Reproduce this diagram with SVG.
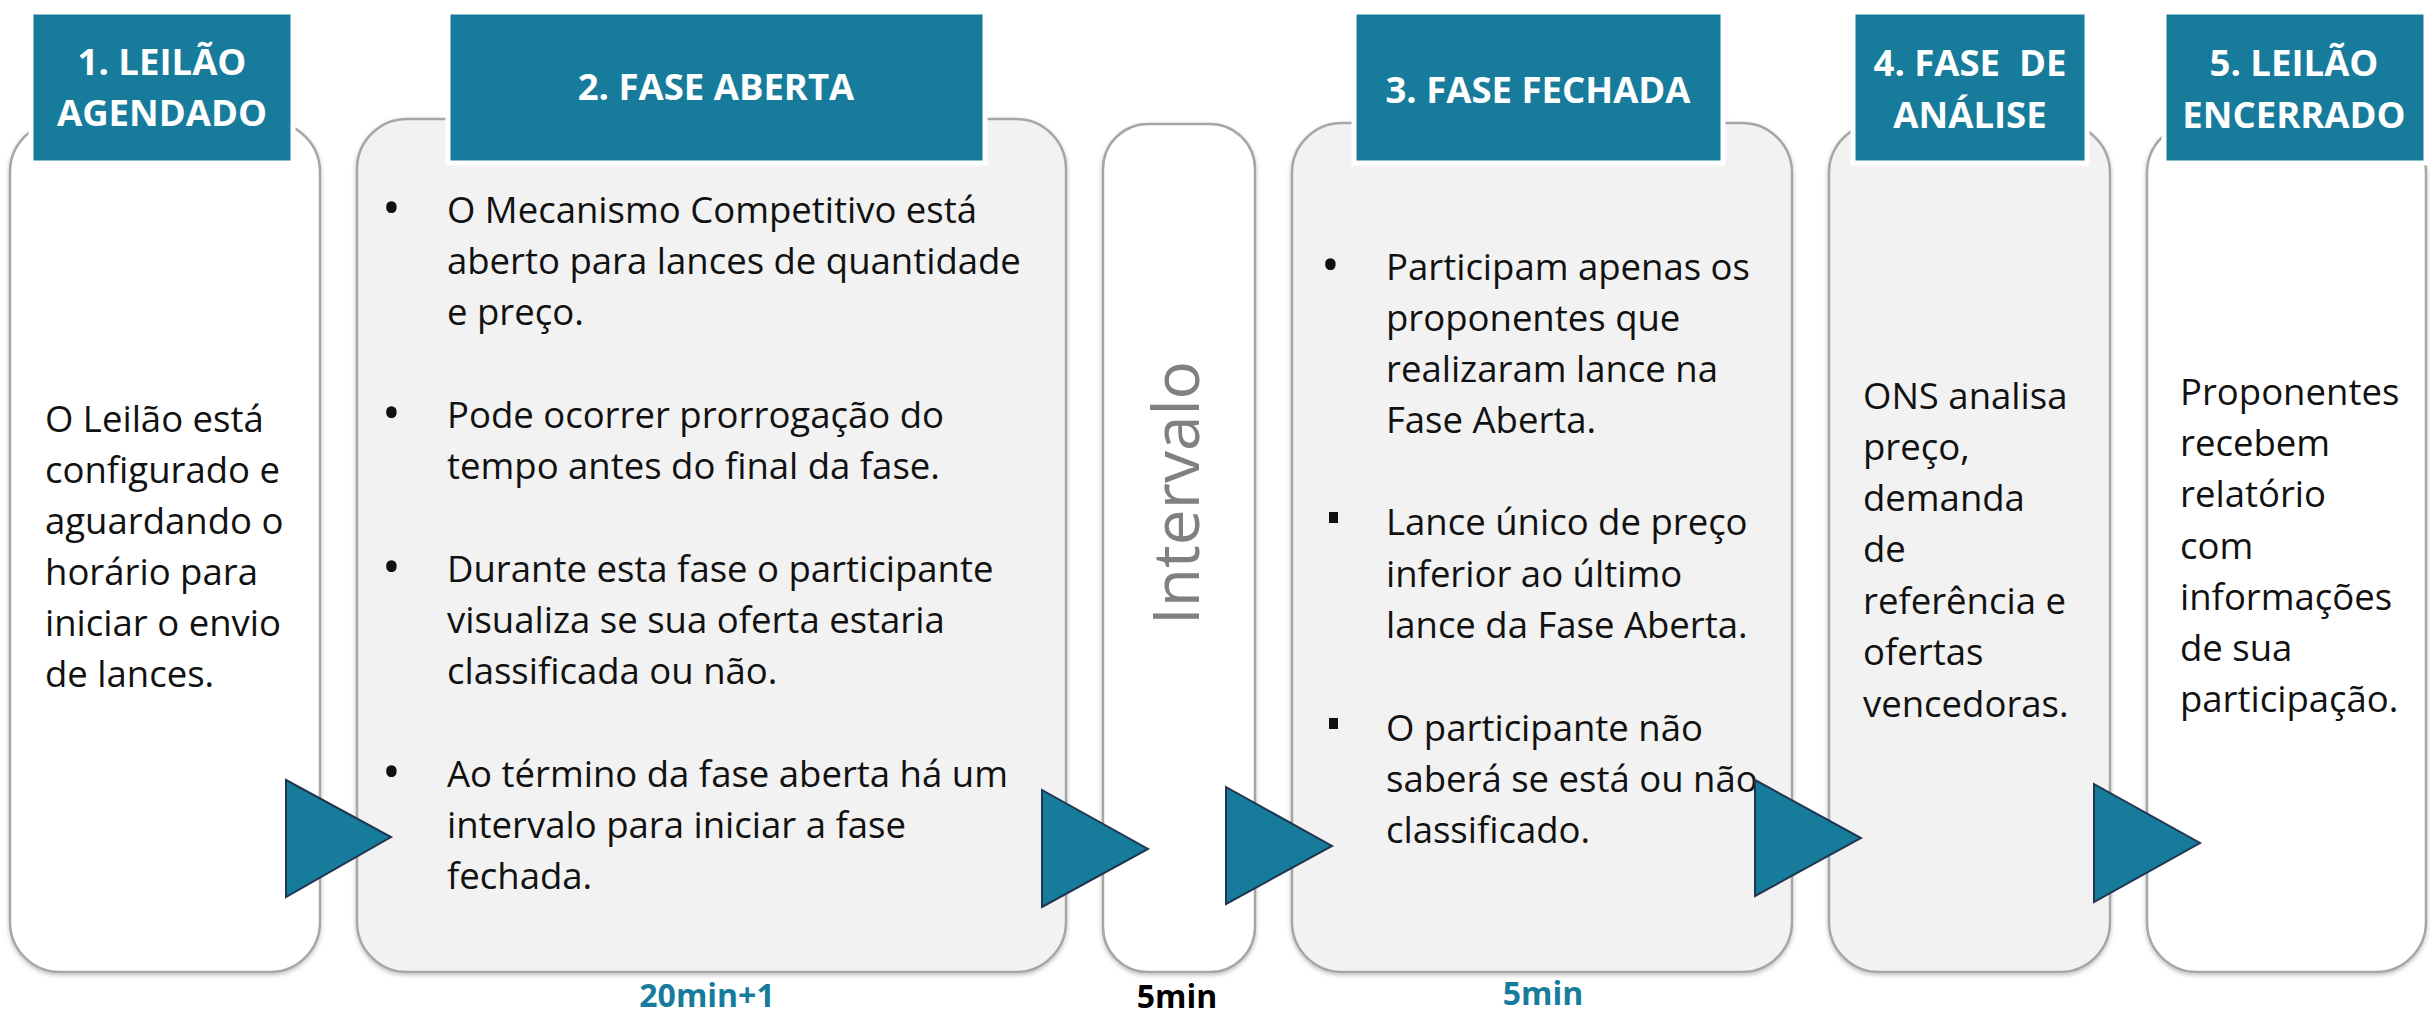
<svg xmlns="http://www.w3.org/2000/svg" width="2430" height="1017" viewBox="0 0 2430 1017">
<defs>
<filter id="sh" x="-5%" y="-5%" width="110%" height="110%">
<feDropShadow dx="0" dy="2" stdDeviation="2" flood-color="#000" flood-opacity="0.25"/>
</filter>
<style>
.box{stroke:#a6a6a6;stroke-width:2.5;filter:url(#sh)}
.w{fill:#ffffff}
.g{fill:#f2f2f2}
.hdr{fill:#177c9c;stroke:#ffffff;stroke-width:5}
.ht{font-family:"Open Sans","Liberation Sans",sans-serif;font-weight:bold;font-size:36.5px;fill:#ffffff;text-anchor:middle}
.t{font-family:"Open Sans","Liberation Sans",sans-serif;font-size:36.5px;fill:#111111}
.b{font-family:"Open Sans","Liberation Sans",sans-serif;font-size:50px;fill:#111111}
.arr{fill:#177c9c;stroke:#1f3550;stroke-width:2;stroke-linejoin:miter}
.lbl{font-family:"Open Sans","Liberation Sans",sans-serif;font-weight:bold;font-size:32px;text-anchor:middle}
</style>
</defs>
<rect width="2430" height="1017" fill="#ffffff"/>

<g id="node1">
<rect class="box w" x="10" y="122" width="310" height="850" rx="50"/>
<rect class="hdr" x="31" y="12" width="262" height="151"/>
<text class="ht" x="162" y="75">1. LEILÃO</text>
<text class="ht" x="162" y="126">AGENDADO</text>
<text class="t" x="45" y="432">O Leilão está</text>
<text class="t" x="45" y="483">configurado e</text>
<text class="t" x="45" y="534">aguardando o</text>
<text class="t" x="45" y="585">horário para</text>
<text class="t" x="45" y="636">iniciar o envio</text>
<text class="t" x="45" y="687">de lances.</text>
</g>

<g id="node2">
<rect class="box g" x="357" y="119" width="709" height="853" rx="50"/>
<rect class="hdr" x="448" y="12" width="537" height="151"/>
<text class="ht" x="716" y="100">2. FASE ABERTA</text>
<text class="b" x="382" y="225">•</text>
<text class="t" x="447" y="223">O Mecanismo Competitivo está</text>
<text class="t" x="447" y="274">aberto para lances de quantidade</text>
<text class="t" x="447" y="325">e preço.</text>
<text class="b" x="382" y="430">•</text>
<text class="t" x="447" y="428">Pode ocorrer prorrogação do</text>
<text class="t" x="447" y="479">tempo antes do final da fase.</text>
<text class="b" x="382" y="584">•</text>
<text class="t" x="447" y="582">Durante esta fase o participante</text>
<text class="t" x="447" y="633">visualiza se sua oferta estaria</text>
<text class="t" x="447" y="684">classificada ou não.</text>
<text class="b" x="382" y="789">•</text>
<text class="t" x="447" y="787">Ao término da fase aberta há um</text>
<text class="t" x="447" y="838">intervalo para iniciar a fase</text>
<text class="t" x="447" y="889">fechada.</text>
</g>

<g id="node-intervalo">
<rect class="box w" x="1103" y="124" width="152" height="848" rx="45"/>
<text x="1199" y="493" transform="rotate(-90 1199 493)" font-family="Open Sans, Liberation Sans, sans-serif" font-size="64" fill="#808080" text-anchor="middle">Intervalo</text>
</g>

<g id="node3">
<rect class="box g" x="1292" y="123" width="500" height="849" rx="50"/>
<rect class="hdr" x="1354" y="12" width="369" height="151"/>
<text class="ht" x="1538" y="103">3. FASE FECHADA</text>
<text class="b" x="1321" y="282">•</text>
<text class="t" x="1386" y="280">Participam apenas os</text>
<text class="t" x="1386" y="331">proponentes que</text>
<text class="t" x="1386" y="382">realizaram lance na</text>
<text class="t" x="1386" y="433">Fase Aberta.</text>
<rect x="1329" y="512" width="9" height="11" fill="#111111"/>
<text class="t" x="1386" y="535">Lance único de preço</text>
<text class="t" x="1386" y="587">inferior ao último</text>
<text class="t" x="1386" y="638">lance da Fase Aberta.</text>
<rect x="1329" y="718" width="9" height="11" fill="#111111"/>
<text class="t" x="1386" y="741">O participante não</text>
<text class="t" x="1386" y="792">saberá se está ou não</text>
<text class="t" x="1386" y="843">classificado.</text>
</g>

<g id="node4">
<rect class="box g" x="1829" y="123" width="281" height="849" rx="50"/>
<rect class="hdr" x="1853" y="12" width="234" height="151"/>
<text class="ht" x="1970" y="76" xml:space="preserve">4. FASE  DE</text>
<text class="ht" x="1970" y="128">ANÁLISE</text>
<text class="t" x="1863" y="409">ONS analisa</text>
<text class="t" x="1863" y="460">preço,</text>
<text class="t" x="1863" y="511">demanda</text>
<text class="t" x="1863" y="562">de</text>
<text class="t" x="1863" y="614">referência e</text>
<text class="t" x="1863" y="665">ofertas</text>
<text class="t" x="1863" y="717">vencedoras.</text>
</g>

<g id="node5">
<rect class="box w" x="2147" y="123" width="279" height="849" rx="50"/>
<rect class="hdr" x="2164" y="12" width="262" height="151"/>
<text class="ht" x="2294" y="76">5. LEILÃO</text>
<text class="ht" x="2294" y="128">ENCERRADO</text>
<text class="t" x="2180" y="405">Proponentes</text>
<text class="t" x="2180" y="456">recebem</text>
<text class="t" x="2180" y="507">relatório</text>
<text class="t" x="2180" y="559">com</text>
<text class="t" x="2180" y="610">informações</text>
<text class="t" x="2180" y="661">de sua</text>
<text class="t" x="2180" y="712">participação.</text>
</g>

<g id="connectors">
<polygon class="arr" points="286,780 391,837 286,897"/>
<polygon class="arr" points="1042,790 1148,849 1042,907"/>
<polygon class="arr" points="1226,787 1332,846 1226,904"/>
<polygon class="arr" points="1755,780 1861,838 1755,896"/>
<polygon class="arr" points="2094,784 2200,843 2094,902"/>
</g>

<g id="labels">
<text class="lbl" x="707" y="1007" fill="#177c9c">20min+1</text>
<text class="lbl" x="1177" y="1008" fill="#000000">5min</text>
<text class="lbl" x="1543" y="1005" fill="#177c9c">5min</text>
</g>
</svg>
